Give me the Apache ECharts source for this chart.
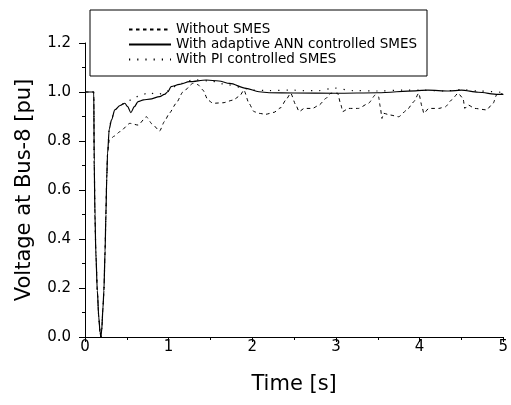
<!DOCTYPE html>
<html>
<head>
<meta charset="utf-8">
<script src="https://cdn.jsdelivr.net/npm/echarts@6/dist/echarts.min.js"></script>
<style>
  html, body { margin: 0; padding: 0; background: #fff; }
  #chart { width: 511px; height: 405px; }
</style>
</head>
<body>
<div id="chart"></div>
<script>
var chart = echarts.init(document.getElementById("chart"));

// shared fault dip (all three curves overlap here)
var dipT = [0, 0.105, 0.11, 0.119, 0.13, 0.147, 0.165, 0.18, 0.19, 0.2, 0.215, 0.226, 0.24, 0.25, 0.26, 0.27];
var dipV = [1.0, 1.0, 0.72, 0.5, 0.34, 0.19, 0.08, 0.02, 0.0, 0.03, 0.12, 0.19, 0.35, 0.5, 0.65, 0.75];

// Without SMES (dashed)
var noT = [0.29, 0.35, 0.417, 0.536, 0.635, 0.734, 0.8, 0.893, 0.95, 1.01, 1.09, 1.17, 1.29, 1.35, 1.41, 1.47, 1.53, 1.65, 1.77, 1.85, 1.9,
  1.96, 2.02, 2.08, 2.16, 2.26, 2.34, 2.4, 2.46, 2.52, 2.56, 2.62, 2.72, 2.8, 2.88, 2.94, 3.02, 3.06, 3.08, 3.15, 3.27, 3.39, 3.47, 3.51,
  3.53, 3.55, 3.57, 3.65, 3.75, 3.85, 3.93, 3.99, 4.03, 4.05, 4.11, 4.23, 4.31, 4.38, 4.46, 4.52, 4.54, 4.58, 4.66, 4.8, 4.88, 4.92, 4.96, 5.0];
var noV = [0.804, 0.82, 0.838, 0.872, 0.865, 0.899, 0.87, 0.841, 0.88, 0.914, 0.954, 1.0, 1.035, 1.03, 1.008, 0.967, 0.954, 0.956, 0.967, 0.984, 1.008,
  0.954, 0.92, 0.913, 0.909, 0.917, 0.936, 0.967, 0.995, 0.947, 0.92, 0.933, 0.933, 0.947, 0.974, 0.995, 0.995, 0.947, 0.92, 0.933, 0.933, 0.954, 0.988, 0.98,
  0.94, 0.892, 0.913, 0.906, 0.899, 0.927, 0.96, 0.995, 0.94, 0.913, 0.933, 0.933, 0.94, 0.967, 0.995, 0.974, 0.933, 0.947, 0.933, 0.927, 0.954, 0.988, 0.995, 0.99];

// With adaptive ANN controlled SMES (solid)
var annT = [0.29, 0.317, 0.357, 0.42, 0.476, 0.51, 0.548, 0.59, 0.635, 0.7, 0.774, 0.893, 0.95, 0.99, 1.03, 1.13, 1.25, 1.45, 1.6, 1.73,
  1.925, 2.08, 2.2, 2.5, 3.0, 3.5, 3.95, 4.1, 4.35, 4.5, 4.7, 4.94, 5.0];
var annV = [0.85, 0.886, 0.927, 0.945, 0.954, 0.94, 0.916, 0.94, 0.961, 0.968, 0.971, 0.981, 0.99, 1.001, 1.022, 1.031, 1.042, 1.049, 1.045, 1.035,
  1.015, 1.001, 0.997, 0.996, 0.995, 0.997, 1.005, 1.008, 1.004, 1.008, 0.999, 0.99, 0.99];

// With PI controlled SMES (dotted)
var piT = [0.29, 0.32, 0.4, 0.5, 0.6, 0.7, 0.754, 0.85, 0.95, 1.05, 1.15, 1.3, 1.5, 1.7, 1.85, 2.0, 2.2, 2.46, 2.6, 2.8, 2.98, 3.2, 3.5,
  3.8, 4.0, 4.3, 4.5, 4.7, 5.0];
var piV = [0.85, 0.9, 0.94, 0.96, 0.98, 0.99, 1.0, 0.99, 0.995, 1.02, 1.035, 1.05, 1.045, 1.03, 1.02, 1.008, 1.006, 1.008, 1.006, 1.006, 1.016, 1.006, 1.004,
  1.008, 1.008, 1.004, 1.01, 1.004, 0.998];

var yTicks = [0, 0.2, 0.4, 0.6, 0.8, 1.0, 1.2];
var xTicks = [0, 1, 2, 3, 4, 5];

function pairs(tA, vA) {
  var out = [];
  for (var i = 0; i < dipT.length; i++) out.push([dipT[i], dipV[i]]);
  for (var j = 0; j < tA.length; j++) out.push([tA[j], vA[j]]);
  return out;
}

var font = "DejaVu Sans, sans-serif";

var option = {
  animation: false,
  backgroundColor: "#fff",
  textStyle: { fontFamily: font, color: "#000" },
  grid: { left: 85, right: 6, top: 43, bottom: 68, containLabel: false },
  legend: {
    orient: "vertical",
    left: 90,
    top: 10,
    padding: [12, 10, 9, 38],
    borderColor: "#000",
    borderWidth: 1,
    itemWidth: 42,
    itemHeight: 15,
    itemGap: 0,
    itemStyle: { opacity: 0 },
    textStyle: { fontFamily: font, fontSize: 13.5, lineHeight: 15, color: "#000" },
    data: ["Without SMES", "With adaptive ANN controlled SMES", "With PI controlled SMES"]
  },
  xAxis: {
    type: "value",
    min: xTicks[0],
    max: xTicks[xTicks.length - 1],
    interval: 1,
    name: "Time [s]",
    nameLocation: "middle",
    nameGap: 37,
    nameTextStyle: { fontFamily: font, fontSize: 21, color: "#000" },
    axisLine: { onZero: false, lineStyle: { color: "#000", width: 1 } },
    axisTick: { inside: false, length: 5, lineStyle: { color: "#000" } },
    minorTick: { show: true, splitNumber: 2, length: 3, lineStyle: { color: "#000" } },
    axisLabel: { fontFamily: font, fontSize: 15, color: "#000", margin: 3 },
    splitLine: { show: false }
  },
  yAxis: {
    type: "value",
    min: yTicks[0],
    max: yTicks[yTicks.length - 1],
    interval: 0.2,
    name: "Voltage at Bus-8 [pu]",
    nameLocation: "middle",
    nameGap: 50,
    nameTextStyle: { fontFamily: font, fontSize: 21, color: "#000" },
    axisLine: { show: true, lineStyle: { color: "#000", width: 1 } },
    axisTick: { show: true, inside: false, length: 6, lineStyle: { color: "#000" } },
    minorTick: { show: true, splitNumber: 2, length: 3, lineStyle: { color: "#000" } },
    axisLabel: {
      fontFamily: font, fontSize: 15, color: "#000", margin: 14,
      formatter: function (v) { return v.toFixed(1); }
    },
    splitLine: { show: false }
  },
  series: [
    {
      name: "Without SMES",
      type: "line",
      data: pairs(noT, noV),
      symbol: "none",
      smooth: 0.2,
      smoothMonotone: "x",
      itemStyle: { color: "#000" },
      lineStyle: { color: "#000", width: 1, type: [3.5, 3.5] }
    },
    {
      name: "With adaptive ANN controlled SMES",
      type: "line",
      data: pairs(annT, annV),
      symbol: "none",
      smooth: 0.3,
      smoothMonotone: "x",
      itemStyle: { color: "#000" },
      lineStyle: { color: "#000", width: 1.2, type: "solid" }
    },
    {
      name: "With PI controlled SMES",
      type: "line",
      data: pairs(piT, piV),
      symbol: "none",
      smooth: 0.3,
      smoothMonotone: "x",
      itemStyle: { color: "#000" },
      lineStyle: { color: "#000", width: 1.2, type: [1.2, 7] }
    }
  ]
};

chart.setOption(option);
</script>
</body>
</html>
